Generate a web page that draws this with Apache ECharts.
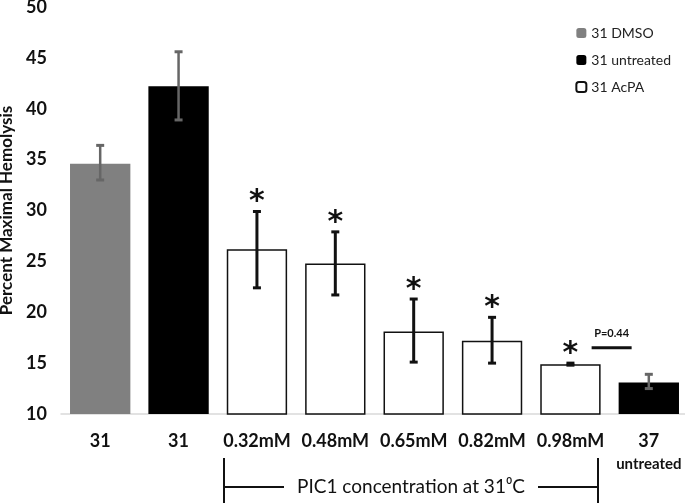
<!DOCTYPE html>
<html>
<head>
    <meta charset="UTF-8">
    <title>Percent Maximal Hemolysis</title>
    <script src="https://cdn.jsdelivr.net/npm/echarts@6/dist/echarts.min.js"></script>
    <style>
        body { margin: 0; background: #fff; }
        #chart { width: 685px; height: 503px; }
    </style>
</head>
<body>
    <div id="chart"></div>
    <script type="text/javascript">
        // data
        const categories = ['31', '31', '0.32mM', '0.48mM', '0.65mM', '0.82mM', '0.98mM', '37\nuntreated'];
        const dmsoValues = [34.6, '-', '-', '-', '-', '-', '-', '-'];
        const untreatedValues = ['-', 42.2, '-', '-', '-', '-', '-', 13.1];
        const acpaValues = ['-', '-', 26.2, 24.8, 18.1, 17.2, 14.9, '-'];
        const errLow = [33.0, 38.9, 22.4, 21.7, 15.1, 15.0, 14.8, 12.5];
        const errHigh = [36.4, 45.6, 29.9, 27.9, 21.3, 19.5, 15.0, 13.9];
        const starred = [false, false, true, true, true, true, true, false];
        const pText = 'P=0.44';
        const pLevel = 16.5;

        const fontFam = 'Lato, "Open Sans", sans-serif';

        const chart = echarts.init(document.getElementById('chart'), null, { renderer: 'canvas' });

        const errData = categories.map((c, i) => [i, errLow[i], errHigh[i]]);

        function renderError(params, api) {
            const i = api.value(0);
            const lo = api.coord([i, api.value(1)]);
            const hi = api.coord([i, api.value(2)]);
            const dark = starred[i];
            const color = dark ? '#111' : '#666';
            const lw = dark ? 3 : 2.5;
            const cap = 4;
            const children = [
                { type: 'line', shape: { x1: hi[0], y1: hi[1], x2: lo[0], y2: lo[1] }, style: { stroke: color, lineWidth: lw } },
                { type: 'line', shape: { x1: hi[0] - cap, y1: hi[1], x2: hi[0] + cap, y2: hi[1] }, style: { stroke: color, lineWidth: 3 } },
                { type: 'line', shape: { x1: lo[0] - cap, y1: lo[1], x2: lo[0] + cap, y2: lo[1] }, style: { stroke: color, lineWidth: 3 } }
            ];
            if (starred[i]) {
                children.push({
                    type: 'text',
                    style: {
                        text: '*', x: hi[0], y: hi[1] + 6, align: 'center', verticalAlign: 'bottom',
                        fontSize: 30, fontWeight: 'bold', fill: '#111', fontFamily: 'DejaVu Sans'
                    }
                });
            }
            return { type: 'group', children: children };
        }

        function renderP(params, api) {
            const a = api.coord([6, pLevel]);
            const b = api.coord([7, pLevel]);
            const mid = (a[0] + b[0]) / 2 + 2;
            return {
                type: 'group',
                children: [
                    { type: 'line', shape: { x1: mid - 20, y1: a[1], x2: mid + 20, y2: a[1] }, style: { stroke: '#111', lineWidth: 3 } },
                    {
                        type: 'text',
                        style: {
                            text: pText, x: mid, y: a[1] - 9, align: 'center', verticalAlign: 'bottom',
                            fontSize: 11, fontWeight: 'bold', fill: '#111', fontFamily: fontFam
                        }
                    }
                ]
            };
        }

        const option = {
            animation: false,
            backgroundColor: '#fff',
            grid: { left: 61, right: -3, top: 7, bottom: 89, outerBoundsMode: 'none' },
            legend: {
                orient: 'vertical',
                right: 9,
                top: 21,
                itemWidth: 10,
                itemHeight: 10,
                itemGap: 13,
                textStyle: { fontSize: 14, color: '#222', fontFamily: fontFam },
                data: ['31 DMSO', '31 untreated', '31 AcPA']
            },
            xAxis: {
                type: 'category',
                data: categories,
                axisLine: { lineStyle: { color: '#d9d9d9', width: 1.5 } },
                axisTick: { show: false },
                axisLabel: {
                    margin: 16,
                    fontSize: 18,
                    fontWeight: 'bold',
                    color: '#111',
                    lineHeight: 23,
                    fontFamily: fontFam,
                    interval: 0,
                    verticalAlign: 'top',
                    formatter: function (v) {
                        const parts = v.split('\n');
                        return parts.length > 1 ? parts[0] + '\n{s|' + parts[1] + '}' : v;
                    },
                    rich: {
                        s: { fontSize: 15, fontWeight: 'bold', color: '#111', fontFamily: fontFam, lineHeight: 23 }
                    }
                }
            },
            yAxis: {
                type: 'value',
                min: 10,
                max: 50,
                interval: 5,
                name: 'Percent Maximal Hemolysis',
                nameLocation: 'middle',
                nameGap: 37,
                nameTextStyle: { fontSize: 17, fontWeight: 'bold', color: '#111', fontFamily: fontFam },
                axisLine: { show: false },
                axisTick: { show: false },
                splitLine: { show: false },
                axisLabel: { fontSize: 18, fontWeight: 'bold', color: '#111', margin: 14, fontFamily: fontFam }
            },
            series: [
                {
                    name: '31 DMSO', type: 'bar', stack: 'all', barCategoryGap: '23%',
                    data: dmsoValues,
                    itemStyle: { color: '#808080' }
                },
                {
                    name: '31 untreated', type: 'bar', stack: 'all',
                    data: untreatedValues,
                    itemStyle: { color: '#000' }
                },
                {
                    name: '31 AcPA', type: 'bar', stack: 'all',
                    data: acpaValues,
                    itemStyle: { color: '#fff', borderColor: '#111', borderWidth: 1.5 }
                },
                {
                    type: 'custom', name: 'err', renderItem: renderError, data: errData, z: 5
                },
                {
                    type: 'custom', name: 'p', renderItem: renderP, data: [[0, pLevel]], z: 5
                }
            ],
            graphic: [
                { type: 'line', shape: { x1: 224, y1: 458, x2: 224, y2: 503 }, style: { stroke: '#111', lineWidth: 2 } },
                { type: 'line', shape: { x1: 598, y1: 458, x2: 598, y2: 503 }, style: { stroke: '#111', lineWidth: 2 } },
                { type: 'line', shape: { x1: 224, y1: 487, x2: 284, y2: 487 }, style: { stroke: '#111', lineWidth: 2 } },
                { type: 'line', shape: { x1: 538, y1: 487, x2: 598, y2: 487 }, style: { stroke: '#111', lineWidth: 2 } },
                {
                    type: 'text', x: 411, y: 487,
                    style: {
                        text: 'PIC1 concentration at 31\u2070C', align: 'center', verticalAlign: 'middle',
                        fontSize: 19, fill: '#111', fontFamily: fontFam
                    }
                }
            ]
        };

        chart.setOption(option);
    </script>
</body>
</html>
